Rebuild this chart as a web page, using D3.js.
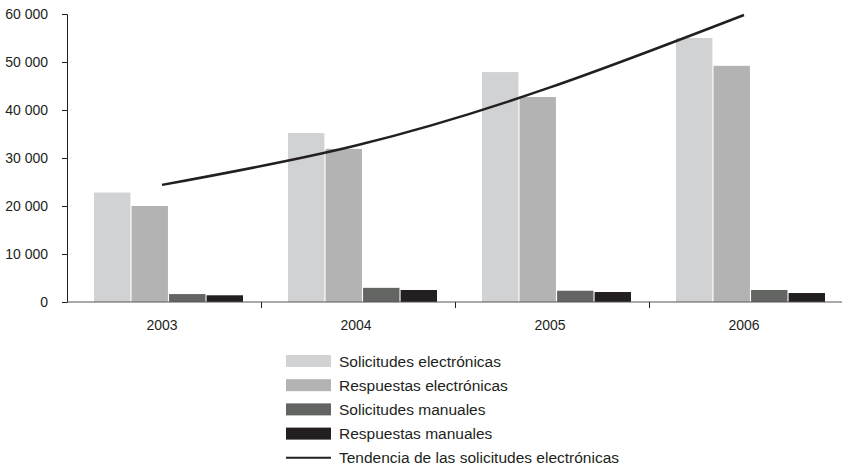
<!DOCTYPE html>
<html>
<head>
<meta charset="utf-8">
<script src="https://cdn.jsdelivr.net/npm/d3@7"></script>
<style>
  body { margin: 0; background: #fff; }
  svg { display: block; font-family: "Liberation Sans", Arial, sans-serif; }
</style>
</head>
<body>
<div id="chart"></div>
<script>
// data
const years = ["2003", "2004", "2005", "2006"];
const seriesNames = ["Solicitudes electrónicas", "Respuestas electrónicas", "Solicitudes manuales", "Respuestas manuales"];
const solicitudesElec = [22800, 35200, 47900, 55000];
const respuestasElec = [20000, 31900, 42700, 49200];
const solicitudesMan = [1650, 2950, 2350, 2500];
const respuestasMan = [1400, 2500, 2080, 1870];
const tendencia = [24400, 32600, 44700, 59800];
const trendName = "Tendencia de las solicitudes electrónicas";
const yTicks = [0, 10000, 20000, 30000, 40000, 50000, 60000];

const colors = ["#d1d2d4", "#b3b3b3", "#636563", "#231f20"];
const seriesValues = [solicitudesElec, respuestasElec, solicitudesMan, respuestasMan];

const width = 842, height = 467;

const svg = d3.select("#chart").append("svg")
    .attr("width", width)
    .attr("height", height);

const x = d3.scaleBand()
    .domain(years)
    .range([67, 843]);

const xInner = d3.scaleBand()
    .domain(d3.range(4))
    .range([27, 176])
    .paddingInner(0.03);

const y = d3.scaleLinear()
    .domain([0, 60000])
    .range([302, 14]);

const fmt = d3.formatLocale({ decimal: ",", thousands: " ", grouping: [3], currency: ["", ""] }).format(",");

// bars
const groups = svg.append("g").selectAll("g")
    .data(years)
    .join("g")
    .attr("transform", d => `translate(${x(d)},0)`);

groups.selectAll("rect")
    .data((d, i) => seriesValues.map((s, k) => ({ k: k, v: s[i] })))
    .join("rect")
    .attr("x", d => xInner(d.k))
    .attr("y", d => y(d.v))
    .attr("width", xInner.bandwidth())
    .attr("height", d => y(0) - y(d.v))
    .attr("fill", d => colors[d.k]);

// y axis
const yAxis = svg.append("g")
    .attr("transform", "translate(67,0)")
    .call(d3.axisLeft(y).tickValues(yTicks).tickSize(5).tickPadding(14).tickFormat(fmt));
yAxis.select(".domain").attr("stroke", "#231f20");
yAxis.selectAll(".tick line").attr("stroke", "#231f20");
yAxis.selectAll("text")
    .attr("font-size", "14px")
    .attr("fill", "#231f20")
    .attr("font-family", "Liberation Sans, Arial, sans-serif");

// x axis
svg.append("line")
    .attr("x1", 67).attr("x2", 842)
    .attr("y1", y(0)).attr("y2", y(0))
    .attr("stroke", "#555").attr("stroke-width", 1);

svg.append("g").selectAll("line")
    .data(years.slice(1))
    .join("line")
    .attr("x1", d => Math.round(x(d)) + 0.5)
    .attr("x2", d => Math.round(x(d)) + 0.5)
    .attr("y1", y(0))
    .attr("y2", y(0) + 6)
    .attr("stroke", "#231f20");

svg.append("g").selectAll("text")
    .data(years)
    .join("text")
    .attr("x", d => x(d) + x.bandwidth() / 2 - 2)
    .attr("y", 330)
    .attr("text-anchor", "middle")
    .attr("font-size", "14px")
    .attr("fill", "#231f20")
    .text(d => d);

// trend line
const line = d3.line()
    .x((d, i) => x(years[i]) + x.bandwidth() / 2 - 2)
    .y(d => y(d))
    .curve(d3.curveNatural);

svg.append("path")
    .datum(tendencia)
    .attr("d", line)
    .attr("fill", "none")
    .attr("stroke", "#231f20")
    .attr("stroke-width", 2.5);

// legend
const legend = svg.append("g").attr("transform", "translate(286,361)");
const rowH = 24.2;

seriesNames.forEach((name, i) => {
    legend.append("rect")
        .attr("x", 0)
        .attr("y", i * rowH - 6)
        .attr("width", 45)
        .attr("height", 12)
        .attr("fill", colors[i]);
    legend.append("text")
        .attr("x", 53)
        .attr("y", i * rowH + 5.5)
        .attr("font-size", "15.5px")
        .attr("fill", "#231f20")
        .text(name);
});

legend.append("line")
    .attr("x1", 0).attr("x2", 45)
    .attr("y1", 4 * rowH).attr("y2", 4 * rowH)
    .attr("stroke", "#231f20")
    .attr("stroke-width", 2);
legend.append("text")
    .attr("x", 53)
    .attr("y", 4 * rowH + 5.5)
    .attr("font-size", "15.5px")
    .attr("fill", "#231f20")
    .text(trendName);
</script>
</body>
</html>
